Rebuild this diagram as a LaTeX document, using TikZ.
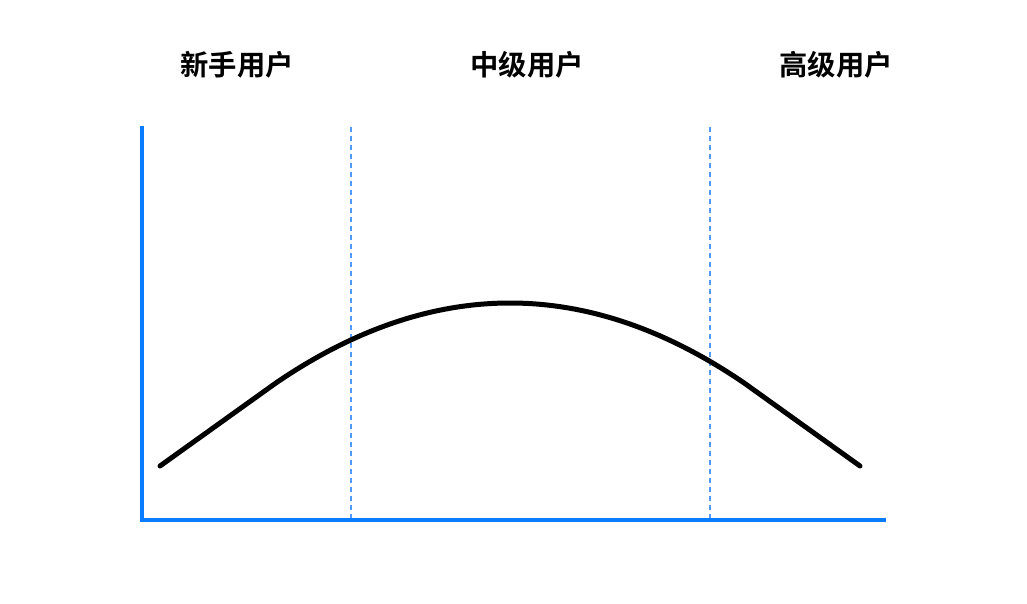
\documentclass[tikz,border=0pt]{standalone}
\usepackage{fontspec}
\newfontfamily\cjk{Noto Sans CJK SC}[BoldFont={Noto Sans CJK SC Bold}]
\definecolor{axisblue}{RGB}{10,124,255}
\definecolor{dashblue}{RGB}{80,155,250}
\tikzset{
  lbl/.style={font=\cjk\bfseries\fontsize{28.3}{30}\selectfont, anchor=center, inner sep=0pt},
  axisline/.style={draw=axisblue, line width=4pt},
  divider/.style={draw=dashblue, line width=1.1pt, dash pattern=on 5pt off 4pt},
  curveline/.style={draw=black, line width=5pt, line cap=round, line join=round}
}
\begin{document}
\begin{tikzpicture}[x=1pt,y=-1pt]
\useasboundingbox (0,0) rectangle (1027,604);
\fill[white] (0,0) rectangle (1027,604);
\node[lbl] (novice) at (237,65) {新手用户};
\node[lbl] (middle) at (527,65) {中级用户};
\node[lbl] (expert) at (836,65) {高级用户};
\coordinate (top) at (142,126);
\coordinate (origin) at (142,520);
\coordinate (right) at (886,520);
\draw[axisline] (top) -- (origin) -- (right);
\coordinate (d1t) at (351,127);
\coordinate (d1b) at (351,518);
\coordinate (d2t) at (710,127);
\coordinate (d2b) at (710,518);
\draw[divider] (d1t) -- (d1b);
\draw[divider] (d2t) -- (d2b);
\coordinate (s) at (160,466);
\coordinate (a) at (275,383.6);
\coordinate (p) at (510,303);
\coordinate (b) at (745,383.6);
\coordinate (e) at (860,466);
\draw[curveline] (s) -- (a) .. controls (353.3,329.9) and (431.7,303) .. (p)
  .. controls (588.3,303) and (666.7,329.9) .. (b) -- (e);
\end{tikzpicture}
\end{document}
